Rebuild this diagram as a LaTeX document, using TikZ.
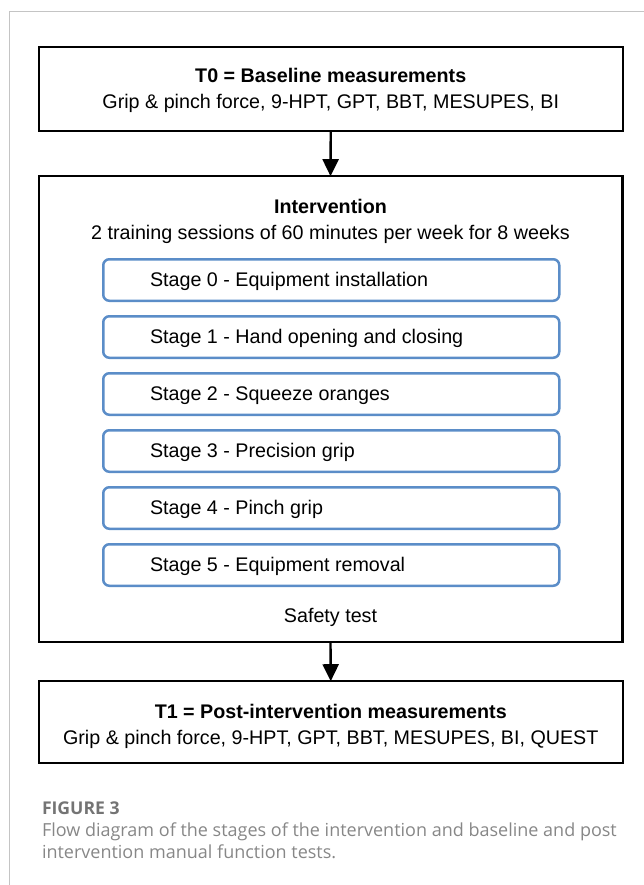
\documentclass[tikz,border=0pt]{standalone}
\usepackage{fontspec}
\setmainfont{Liberation Sans}
\newfontfamily\capfont{Open Sans}
\usetikzlibrary{arrows.meta}
\definecolor{stageblue}{HTML}{5B8DC8}
\definecolor{framegray}{HTML}{C4C4C4}
\definecolor{captiongray}{HTML}{878787}
\definecolor{labelgray}{HTML}{747474}
\tikzset{
  mainbox/.style={draw=black, line width=2.4pt, rectangle, inner sep=0pt, outer sep=0pt},
  stagebox/.style={draw=stageblue, line width=2.5pt, rectangle, rounded corners=6pt,
    minimum width=456pt, minimum height=41.5pt, inner sep=0pt, outer sep=0pt},
  txt/.style={inner sep=0pt, outer sep=0pt, anchor=base, font=\fontsize{19.7}{23}\selectfont},
  bold/.style={txt, font=\fontsize{19.7}{23}\selectfont\bfseries},
  stagetxt/.style={txt, anchor=base west},
  flow/.style={line width=2.4pt, -{Triangle[width=16pt,length=17pt]}},
  captxt/.style={inner sep=0pt, outer sep=0pt, anchor=base west, text=captiongray,
    font=\capfont\fontsize{18}{21}\selectfont},
}
\begin{document}
\begin{tikzpicture}[x=1pt, y=-1pt]
\useasboundingbox (0,0) rectangle (644,885);
% panel frame
\draw[framegray, line width=1.2pt] (9.5,885) -- (9.5,11.7) -- (644,11.7);

% baseline measurements
\node[mainbox, minimum width=584.1pt, minimum height=84.1pt] (t0) at (330.75,89.25) {};
\node[bold] (t0title) at (330.75,83) {T0 = Baseline measurements};
\node[txt] (t0list) at (330.75,109) {Grip \& pinch force, 9-HPT, GPT, BBT, MESUPES, BI};

% intervention
\node[mainbox, minimum width=583.6pt, minimum height=465.6pt] (int) at (330.5,409) {};
\node[bold] (inttitle) at (330.5,214) {Intervention};
\node[txt] (intsub) at (330.5,240) {2 training sessions of 60 minutes per week for 8 weeks};

\node[stagebox] (s0) at (331.25,280) {};
\node[stagebox] (s1) at (331.25,337) {};
\node[stagebox] (s2) at (331.25,394) {};
\node[stagebox] (s3) at (331.25,451) {};
\node[stagebox] (s4) at (331.25,508) {};
\node[stagebox] (s5) at (331.25,565) {};
\node[stagetxt] (s0t) at (150,286) {Stage 0 - Equipment installation};
\node[stagetxt] (s1t) at (150,343) {Stage 1 - Hand opening and closing};
\node[stagetxt] (s2t) at (150,400) {Stage 2 - Squeeze oranges};
\node[stagetxt] (s3t) at (150,457) {Stage 3 - Precision grip};
\node[stagetxt] (s4t) at (150,514) {Stage 4 - Pinch grip};
\node[stagetxt] (s5t) at (150,571) {Stage 5 - Equipment removal};
\node[txt] (safety) at (330.5,622) {Safety test};

% post-intervention measurements
\node[mainbox, minimum width=584.1pt, minimum height=81.6pt] (t1) at (330.75,722) {};
\node[bold] (t1title) at (330.75,718) {T1 = Post-intervention measurements};
\node[txt] (t1list) at (330.75,744) {Grip \& pinch force, 9-HPT, GPT, BBT, MESUPES, BI, QUEST};

% connectors
\draw[flow] (t0.south) -- (int.north);
\draw[flow] (int.south) -- (t1.north);

% caption
\node[captxt, text=labelgray, font=\capfont\fontsize{17.6}{20}\selectfont\bfseries] (figlabel) at (42,814) {FIGURE 3};
\node[captxt] (cap1) at (42,836.5) {Flow diagram of the stages of the intervention and baseline and post};
\node[captxt] (cap2) at (42,858) {intervention manual function tests.};
\end{tikzpicture}
\end{document}
